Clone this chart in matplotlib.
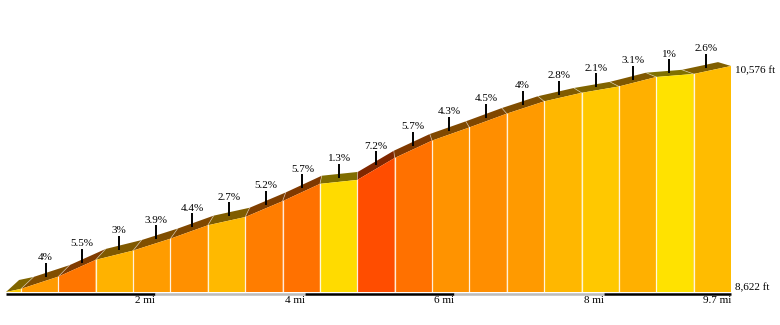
import matplotlib.pyplot as plt
from matplotlib.patches import Polygon

# elevation profile, segment ends in miles and feet
dist = [0, 0.2, 0.7, 1.2, 1.7, 2.2, 2.7, 3.2, 3.7, 4.2, 4.7,
        5.2, 5.7, 6.2, 6.7, 7.2, 7.7, 8.2, 8.7, 9.2, 9.7]
elev = [8622, 8649, 8755, 8900, 8980, 9083, 9199, 9270, 9407, 9557, 9591,
        9781, 9931, 10045, 10164, 10270, 10344, 10399, 10481, 10507, 10576]
# grade of each segment (%), first one has no label
grade = [2.0, 4, 5.5, 3, 3.9, 4.4, 2.7, 5.2, 5.7, 1.3, 7.2,
         5.7, 4.3, 4.5, 4, 2.8, 2.1, 3.1, 1, 2.6]
show_label = [False] + [True] * 19

mile_marks = [2, 4, 6, 8, 9.7]
mile_labels = ['2 mi', '4 mi', '6 mi', '8 mi', '9.7 mi']
elev_labels = ['8,622 ft', '10,576 ft']

plt.rcParams['font.family'] = ['Liberation Serif', 'DejaVu Serif']

W, H = 780, 325
fig = plt.figure(figsize=(W / 100, H / 100), dpi=100)
left, right, bottom_px, top_px = 6, 731, 292, 66
ax = fig.add_axes([left / W, (H - bottom_px) / H, (right - left) / W, (bottom_px - top_px) / H])
lo, hi = min(elev), max(elev)
ax.set_xlim(0, dist[-1])
ax.set_ylim(lo, hi)
ax.axis('off')

mx = dist[-1] / (right - left)       # miles per pixel
fy = (hi - lo) / (bottom_px - top_px)  # feet per pixel

# vanishing point for the "3d" top band
vx, vy = (370 - left) * mx, lo + (bottom_px + 42) * fy
k = 0.036


def back(x, y, t=1.0):
    return x + t * k * (vx - x), y + t * k * (vy - y)


def face_color(g):
    G = max(0, min(255, 250 - 24 * g))
    return (1.0, G / 255, 0.0)


n = len(grade)
# top band
for i in range(n):
    x0, x1, e0, e1 = dist[i], dist[i + 1], elev[i], elev[i + 1]
    c = face_color(grade[i])
    band = [(x0, e0), (x1, e1), back(x1, e1), back(x0, e0)]
    ax.add_patch(Polygon(band, closed=True, fc=(c[0] * 0.5, c[1] * 0.5, 0), ec='none',
                         zorder=1, clip_on=False))
for i in range(1, n):
    bx, by = back(dist[i], elev[i])
    ax.plot([dist[i], bx], [elev[i], by], color='white', alpha=0.45, lw=0.6,
            zorder=1.5, clip_on=False)

# front faces
for i in range(n):
    x0, x1, e0, e1 = dist[i], dist[i + 1], elev[i], elev[i + 1]
    face = [(x0, lo), (x0, e0), (x1, e1), (x1, lo)]
    ax.add_patch(Polygon(face, closed=True, fc=face_color(grade[i]), ec='none',
                         zorder=2, clip_on=False))
for i in range(1, n):
    ax.plot([dist[i], dist[i]], [lo, elev[i]], color='white', alpha=0.85, lw=0.9,
            zorder=3, clip_on=False)

# grade labels with ticks
for i in range(n):
    if not show_label[i]:
        continue
    xm = (dist[i] + dist[i + 1]) / 2
    ym = (elev[i] + elev[i + 1]) / 2
    bx, by = back(xm, ym, 0.5)
    ax.plot([bx, bx], [by, by + 14 * fy], color='black', lw=1.4, zorder=4,
            solid_capstyle='butt', clip_on=False)
    ax.text(bx, by + 14.5 * fy, f'{grade[i]:g}%', ha='center', va='bottom',
            fontsize=8, zorder=5)

# distance bar
starts = [0] + mile_marks[:-1]
for j, (a, b) in enumerate(zip(starts, mile_marks)):
    col = 'black' if j % 2 == 0 else '#bbbbbb'
    ax.plot([a, b], [lo - 1.5 * fy, lo - 1.5 * fy], color=col, lw=1.8,
            solid_capstyle='butt', clip_on=False, zorder=4)
for m, lab in zip(mile_marks, mile_labels):
    ax.text(m, lo - 3.5 * fy, lab, ha='right', va='top', fontsize=8)

# elevation labels
ax.text(dist[-1] + 4 * mx, hi, elev_labels[1], ha='left', va='top', fontsize=8)
ax.text(dist[-1] + 4 * mx, lo + 2 * fy, elev_labels[0], ha='left', va='baseline', fontsize=8)

fig.savefig('out.png', dpi=100)
